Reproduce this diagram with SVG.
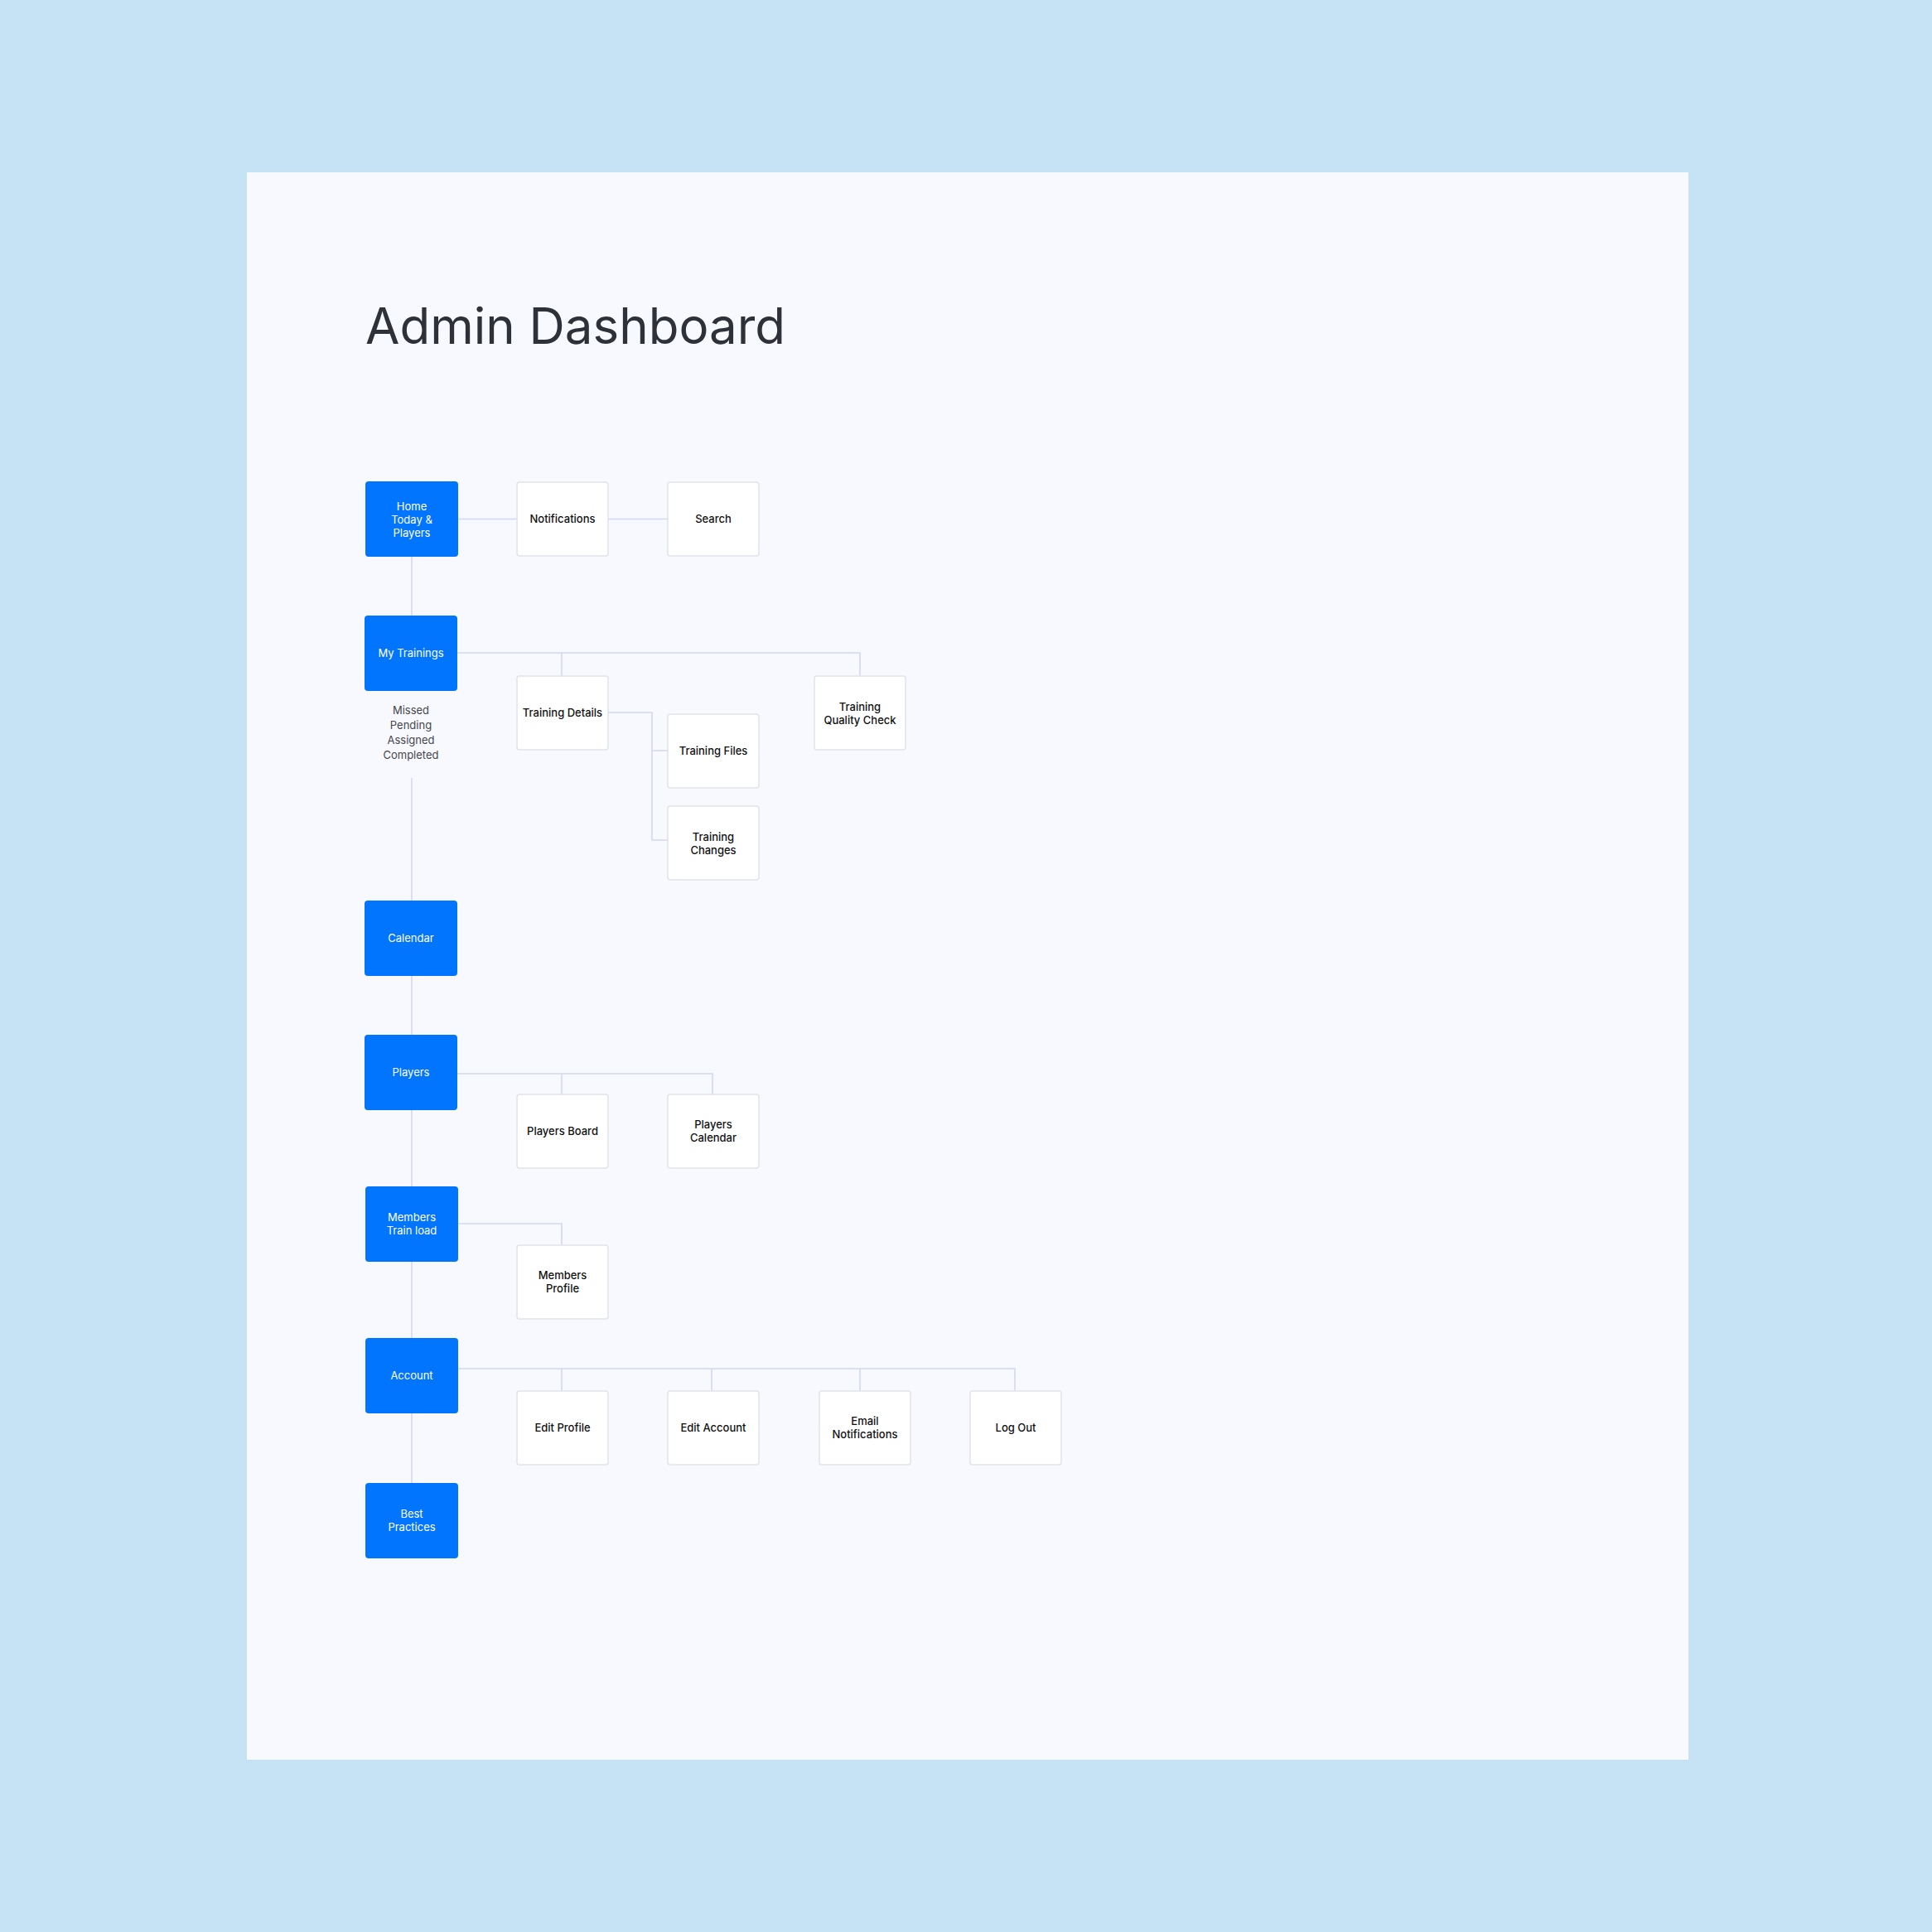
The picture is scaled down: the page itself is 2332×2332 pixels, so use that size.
<svg xmlns="http://www.w3.org/2000/svg" width="2332" height="2332" viewBox="0 0 2332 2332">
<style>
.bg{fill:#C5E3F5}
.panel{fill:#F8F9FE}
.title{font-family:Inter,"Noto Sans",sans-serif;font-size:60px;font-weight:400;fill:#2E3138}
.blue rect{fill:#0275FF}
.blue text{font-family:Inter,"Noto Sans",sans-serif;font-size:13px;font-weight:400;fill:#FFFFFF;text-anchor:middle}
.white rect{fill:#FFFFFF;stroke:#E1E3EC;stroke-width:1.5}
.white text{font-family:Inter,"Noto Sans",sans-serif;font-size:13px;font-weight:500;fill:#111111;text-anchor:middle}
.note{font-family:Inter,"Noto Sans",sans-serif;font-size:13px;font-weight:400;fill:#44464C;text-anchor:middle}
#connectors path{fill:none;stroke:#D2D8F2;stroke-width:1.6}
</style>
<rect class="bg" x="0" y="0" width="2332" height="2332"/>
<rect class="panel" x="298" y="208" width="1740" height="1916"/>
<text class="title" x="441" y="415">Admin Dashboard</text>

<g id="connectors">
<path d="M553 626.5 H624"/>
<path d="M734 626.5 H806"/>
<path d="M497 672 V743"/>
<path d="M552 788 H1038 V816"/>
<path d="M678 788 V816"/>
<path d="M734 860 H787 V1014 H806"/>
<path d="M787 906 H806"/>
<path d="M497 939 V1087"/>
<path d="M497 1178 V1249"/>
<path d="M552 1296 H860 V1321"/>
<path d="M678 1296 V1321"/>
<path d="M497 1340 V1432"/>
<path d="M553 1477 H678 V1503"/>
<path d="M497 1523 V1615"/>
<path d="M553 1652 H1225 V1679"/>
<path d="M678 1652 V1679"/>
<path d="M859 1652 V1679"/>
<path d="M1038 1652 V1679"/>
<path d="M497 1706 V1790"/>
</g>

<g id="home" class="blue">
<rect x="441" y="581" width="112" height="91" rx="4"/>
<text x="497" y="615.7">Home</text>
<text x="497" y="631.7">Today &amp;</text>
<text x="497" y="647.7">Players</text>
</g>
<g id="notifications" class="white">
<rect x="624" y="582" width="110" height="89" rx="3"/>
<text x="679" y="631.2">Notifications</text>
</g>
<g id="search" class="white">
<rect x="806" y="582" width="110" height="89" rx="3"/>
<text x="861" y="631.2">Search</text>
</g>

<g id="my-trainings" class="blue">
<rect x="440" y="743" width="112" height="91" rx="4"/>
<text x="496" y="792.7">My Trainings</text>
</g>
<g id="my-trainings-states">
<text class="note" x="496" y="862">Missed</text>
<text class="note" x="496" y="880">Pending</text>
<text class="note" x="496" y="898">Assigned</text>
<text class="note" x="496" y="916">Completed</text>
</g>
<g id="training-details" class="white">
<rect x="624" y="816" width="110" height="89" rx="3"/>
<text x="679" y="865.2">Training Details</text>
</g>
<g id="training-files" class="white">
<rect x="806" y="862" width="110" height="89" rx="3"/>
<text x="861" y="911.2">Training Files</text>
</g>
<g id="training-changes" class="white">
<rect x="806" y="973" width="110" height="89" rx="3"/>
<text x="861" y="1014.7">Training</text>
<text x="861" y="1030.7">Changes</text>
</g>
<g id="training-quality-check" class="white">
<rect x="983" y="816" width="110" height="89" rx="3"/>
<text x="1038" y="857.7">Training</text>
<text x="1038" y="873.7">Quality Check</text>
</g>

<g id="calendar" class="blue">
<rect x="440" y="1087" width="112" height="91" rx="4"/>
<text x="496" y="1137.2">Calendar</text>
</g>

<g id="players" class="blue">
<rect x="440" y="1249" width="112" height="91" rx="4"/>
<text x="496" y="1298.7">Players</text>
</g>
<g id="players-board" class="white">
<rect x="624" y="1321" width="110" height="89" rx="3"/>
<text x="679" y="1370.2">Players Board</text>
</g>
<g id="players-calendar" class="white">
<rect x="806" y="1321" width="110" height="89" rx="3"/>
<text x="861" y="1362.2">Players</text>
<text x="861" y="1378.2">Calendar</text>
</g>

<g id="members-train-load" class="blue">
<rect x="441" y="1432" width="112" height="91" rx="4"/>
<text x="497" y="1473.7">Members</text>
<text x="497" y="1489.7">Train load</text>
</g>
<g id="members-profile" class="white">
<rect x="624" y="1503" width="110" height="89" rx="3"/>
<text x="679" y="1544.2">Members</text>
<text x="679" y="1560.2">Profile</text>
</g>

<g id="account" class="blue">
<rect x="441" y="1615" width="112" height="91" rx="4"/>
<text x="497" y="1665.2">Account</text>
</g>
<g id="edit-profile" class="white">
<rect x="624" y="1679" width="110" height="89" rx="3"/>
<text x="679" y="1728.2">Edit Profile</text>
</g>
<g id="edit-account" class="white">
<rect x="806" y="1679" width="110" height="89" rx="3"/>
<text x="861" y="1728.2">Edit Account</text>
</g>
<g id="email-notifications" class="white">
<rect x="989" y="1679" width="110" height="89" rx="3"/>
<text x="1044" y="1720.2">Email</text>
<text x="1044" y="1736.2">Notifications</text>
</g>
<g id="log-out" class="white">
<rect x="1171" y="1679" width="110" height="89" rx="3"/>
<text x="1226" y="1728.2">Log Out</text>
</g>

<g id="best-practices" class="blue">
<rect x="441" y="1790" width="112" height="91" rx="4"/>
<text x="497" y="1832.2">Best</text>
<text x="497" y="1848.2">Practices</text>
</g>
</svg>
